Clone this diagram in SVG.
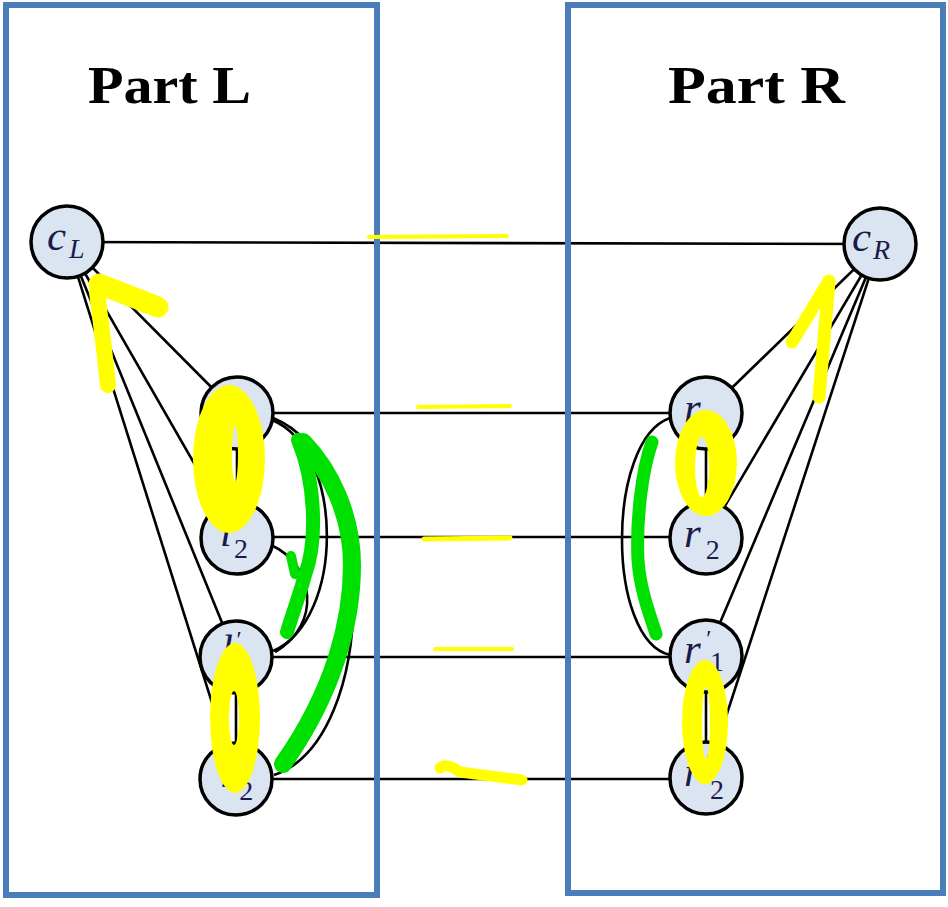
<svg xmlns="http://www.w3.org/2000/svg" width="948" height="907" viewBox="0 0 948 907">
<style>
.box{fill:none;stroke:#4a7ebb;stroke-width:6}
.edge{fill:none;stroke:#000;stroke-width:2.6}
.node circle{fill:#dbe5f1;stroke:#000;stroke-width:3.5}
.title{font-family:"Liberation Serif",serif;font-weight:bold;font-size:53px;fill:#000}
.lbl{font-family:"Liberation Serif",serif;font-style:italic;font-size:43px;fill:#1b1b4b}
.sub{font-size:28px}
.sup{font-size:24px}
.num{font-style:normal}
.yl{fill:#ffff00}
.ys{fill:none;stroke:#ffff00;stroke-linecap:round;stroke-linejoin:round}
.gs{fill:none;stroke:#00e000;stroke-linecap:round;stroke-linejoin:round}
</style>
<rect width="948" height="907" fill="#fff"/>
<g id="connectors">
<line class="edge" x1="67" y1="242" x2="880" y2="244"/>
<line class="edge" x1="237" y1="413" x2="706" y2="413"/>
<line class="edge" x1="237" y1="537" x2="706" y2="537"/>
<line class="edge" x1="236" y1="657" x2="706" y2="657"/>
<line class="edge" x1="236" y1="779" x2="706" y2="779"/>
<line class="edge" x1="67" y1="242" x2="237" y2="413"/>
<line class="edge" x1="67" y1="242" x2="237" y2="538"/>
<line class="edge" x1="67" y1="242" x2="236" y2="657"/>
<line class="edge" x1="67" y1="242" x2="236" y2="779"/>
<line class="edge" x1="880" y1="244" x2="706" y2="413"/>
<line class="edge" x1="880" y1="244" x2="706" y2="538"/>
<line class="edge" x1="880" y1="244" x2="706" y2="656"/>
<line class="edge" x1="880" y1="244" x2="706" y2="778"/>
<line class="edge" x1="237" y1="413" x2="237" y2="538"/>
<line class="edge" x1="236" y1="657" x2="236" y2="779"/>
<line class="edge" x1="706" y1="413" x2="706" y2="538"/>
<line class="edge" x1="706" y1="656" x2="706" y2="778"/>
<path class="edge" d="M272,420 C345,450 345,620 273,651"/>
<path class="edge" d="M273,418 C380,460 380,740 274,775"/>
<path class="edge" d="M271,545 C315,565 322,625 275,652"/>
<path class="edge" d="M670,418 C606,440 606,640 670,655"/>
</g>
<g id="partL">
<rect class="box" x="6" y="5" width="371" height="890"/>
<text class="title" x="88" y="103" textLength="163" lengthAdjust="spacingAndGlyphs">Part L</text>
</g>
<g id="partR">
<rect class="box" x="568" y="5" width="375" height="888"/>
<text class="title" x="668" y="103" textLength="177" lengthAdjust="spacingAndGlyphs">Part R</text>
</g>
<g id="cL" class="node"><circle cx="67" cy="242" r="36"/><text class="lbl" x="47" y="250">c<tspan class="sub" dx="3" dy="8">L</tspan></text></g>
<g id="cR" class="node"><circle cx="880" cy="244" r="36"/><text class="lbl" x="852" y="251">c<tspan class="sub" dx="2" dy="8">R</tspan></text></g>
<g id="l1" class="node"><circle cx="237" cy="413" r="36"/><text class="lbl" x="224" y="422">l<tspan class="sub num" dx="2" dy="12">1</tspan></text></g>
<g id="l2" class="node"><circle cx="237" cy="538" r="36"/><text class="lbl" x="220" y="546">l<tspan class="sub num" dx="2" dy="12">2</tspan></text></g>
<g id="l1p" class="node"><circle cx="236" cy="657" r="36"/><text class="lbl" x="221" y="664">l<tspan class="sup" dx="2" dy="-17">′</tspan><tspan class="sub num" dx="0" dy="27">1</tspan></text></g>
<g id="l2p" class="node"><circle cx="236" cy="779" r="36"/><text class="lbl" x="220" y="787">l<tspan class="sup" dx="2" dy="-17">′</tspan><tspan class="sub num" dx="0" dy="30">2</tspan></text></g>
<g id="r1" class="node"><circle cx="706" cy="413" r="36"/><text class="lbl" x="684" y="422">r<tspan class="sub num" dx="5" dy="12">1</tspan></text></g>
<g id="r2" class="node"><circle cx="706" cy="538" r="36"/><text class="lbl" x="684" y="547">r<tspan class="sub num" dx="5" dy="12">2</tspan></text></g>
<g id="r1p" class="node"><circle cx="706" cy="656" r="36"/><text class="lbl" x="684" y="663">r<tspan class="sup" dx="4" dy="-17">′</tspan><tspan class="sub num" dx="0" dy="25">1</tspan></text></g>
<g id="r2p" class="node"><circle cx="706" cy="778" r="36"/><text class="lbl" x="684" y="786">r<tspan class="sup" dx="4" dy="-17">′</tspan><tspan class="sub num" dx="0" dy="30">2</tspan></text></g>
<g id="highlights">
<path class="yl" fill-rule="evenodd" d="M193,459 a36,74 0 1,0 72,0 a36,74 0 1,0 -72,0 Z M232,454 a3,28 0 1,0 6,0 a3,28 0 1,0 -6,0 Z"/>
<path class="yl" fill-rule="evenodd" d="M210,718 a25,75 0 1,0 50,0 a25,75 0 1,0 -50,0 Z M229,718 a5,27 0 1,0 10,0 a5,27 0 1,0 -10,0 Z"/>
<path class="yl" fill-rule="evenodd" d="M675,463 a31,53 0 1,0 62,0 a31,53 0 1,0 -62,0 Z M695,467 a7,30 0 1,0 14,0 a7,30 0 1,0 -14,0 Z"/>
<path class="yl" fill-rule="evenodd" d="M682,722 a23,62 0 1,0 46,0 a23,62 0 1,0 -46,0 Z M702,723 a4,36 0 1,0 8,0 a4,36 0 1,0 -8,0 Z"/>
<polyline class="ys" stroke-width="16" points="97,292 103,340 108,385"/>
<polyline class="ys" stroke-width="21" points="99,284 130,296 158,307"/>
<polyline class="ys" stroke-width="13" points="792,342 829,281 819,397"/>
<path class="ys" stroke-width="4" d="M369,237 L507,236"/>
<path class="ys" stroke-width="4" d="M418,407 L510,406"/>
<path class="ys" stroke-width="5" d="M424,539 L510,538"/>
<path class="ys" stroke-width="4" d="M435,649 L512,649"/>
<path class="ys" stroke-width="11" d="M440,768 Q446,762 460,772 L522,780"/>
<path class="gs" stroke-width="18" d="M303,442 C330,470 352,515 352,565 C352,620 335,690 283,764"/>
<path class="gs" stroke-width="14" d="M298,440 C315,480 318,540 305,575 C298,600 292,615 287,632"/>
<path class="gs" stroke-width="10" d="M291,556 L295,574"/>
<path class="gs" stroke-width="13" d="M652,442 C642,470 636,520 638,560 C640,590 650,615 656,634"/>
</g>
</svg>
